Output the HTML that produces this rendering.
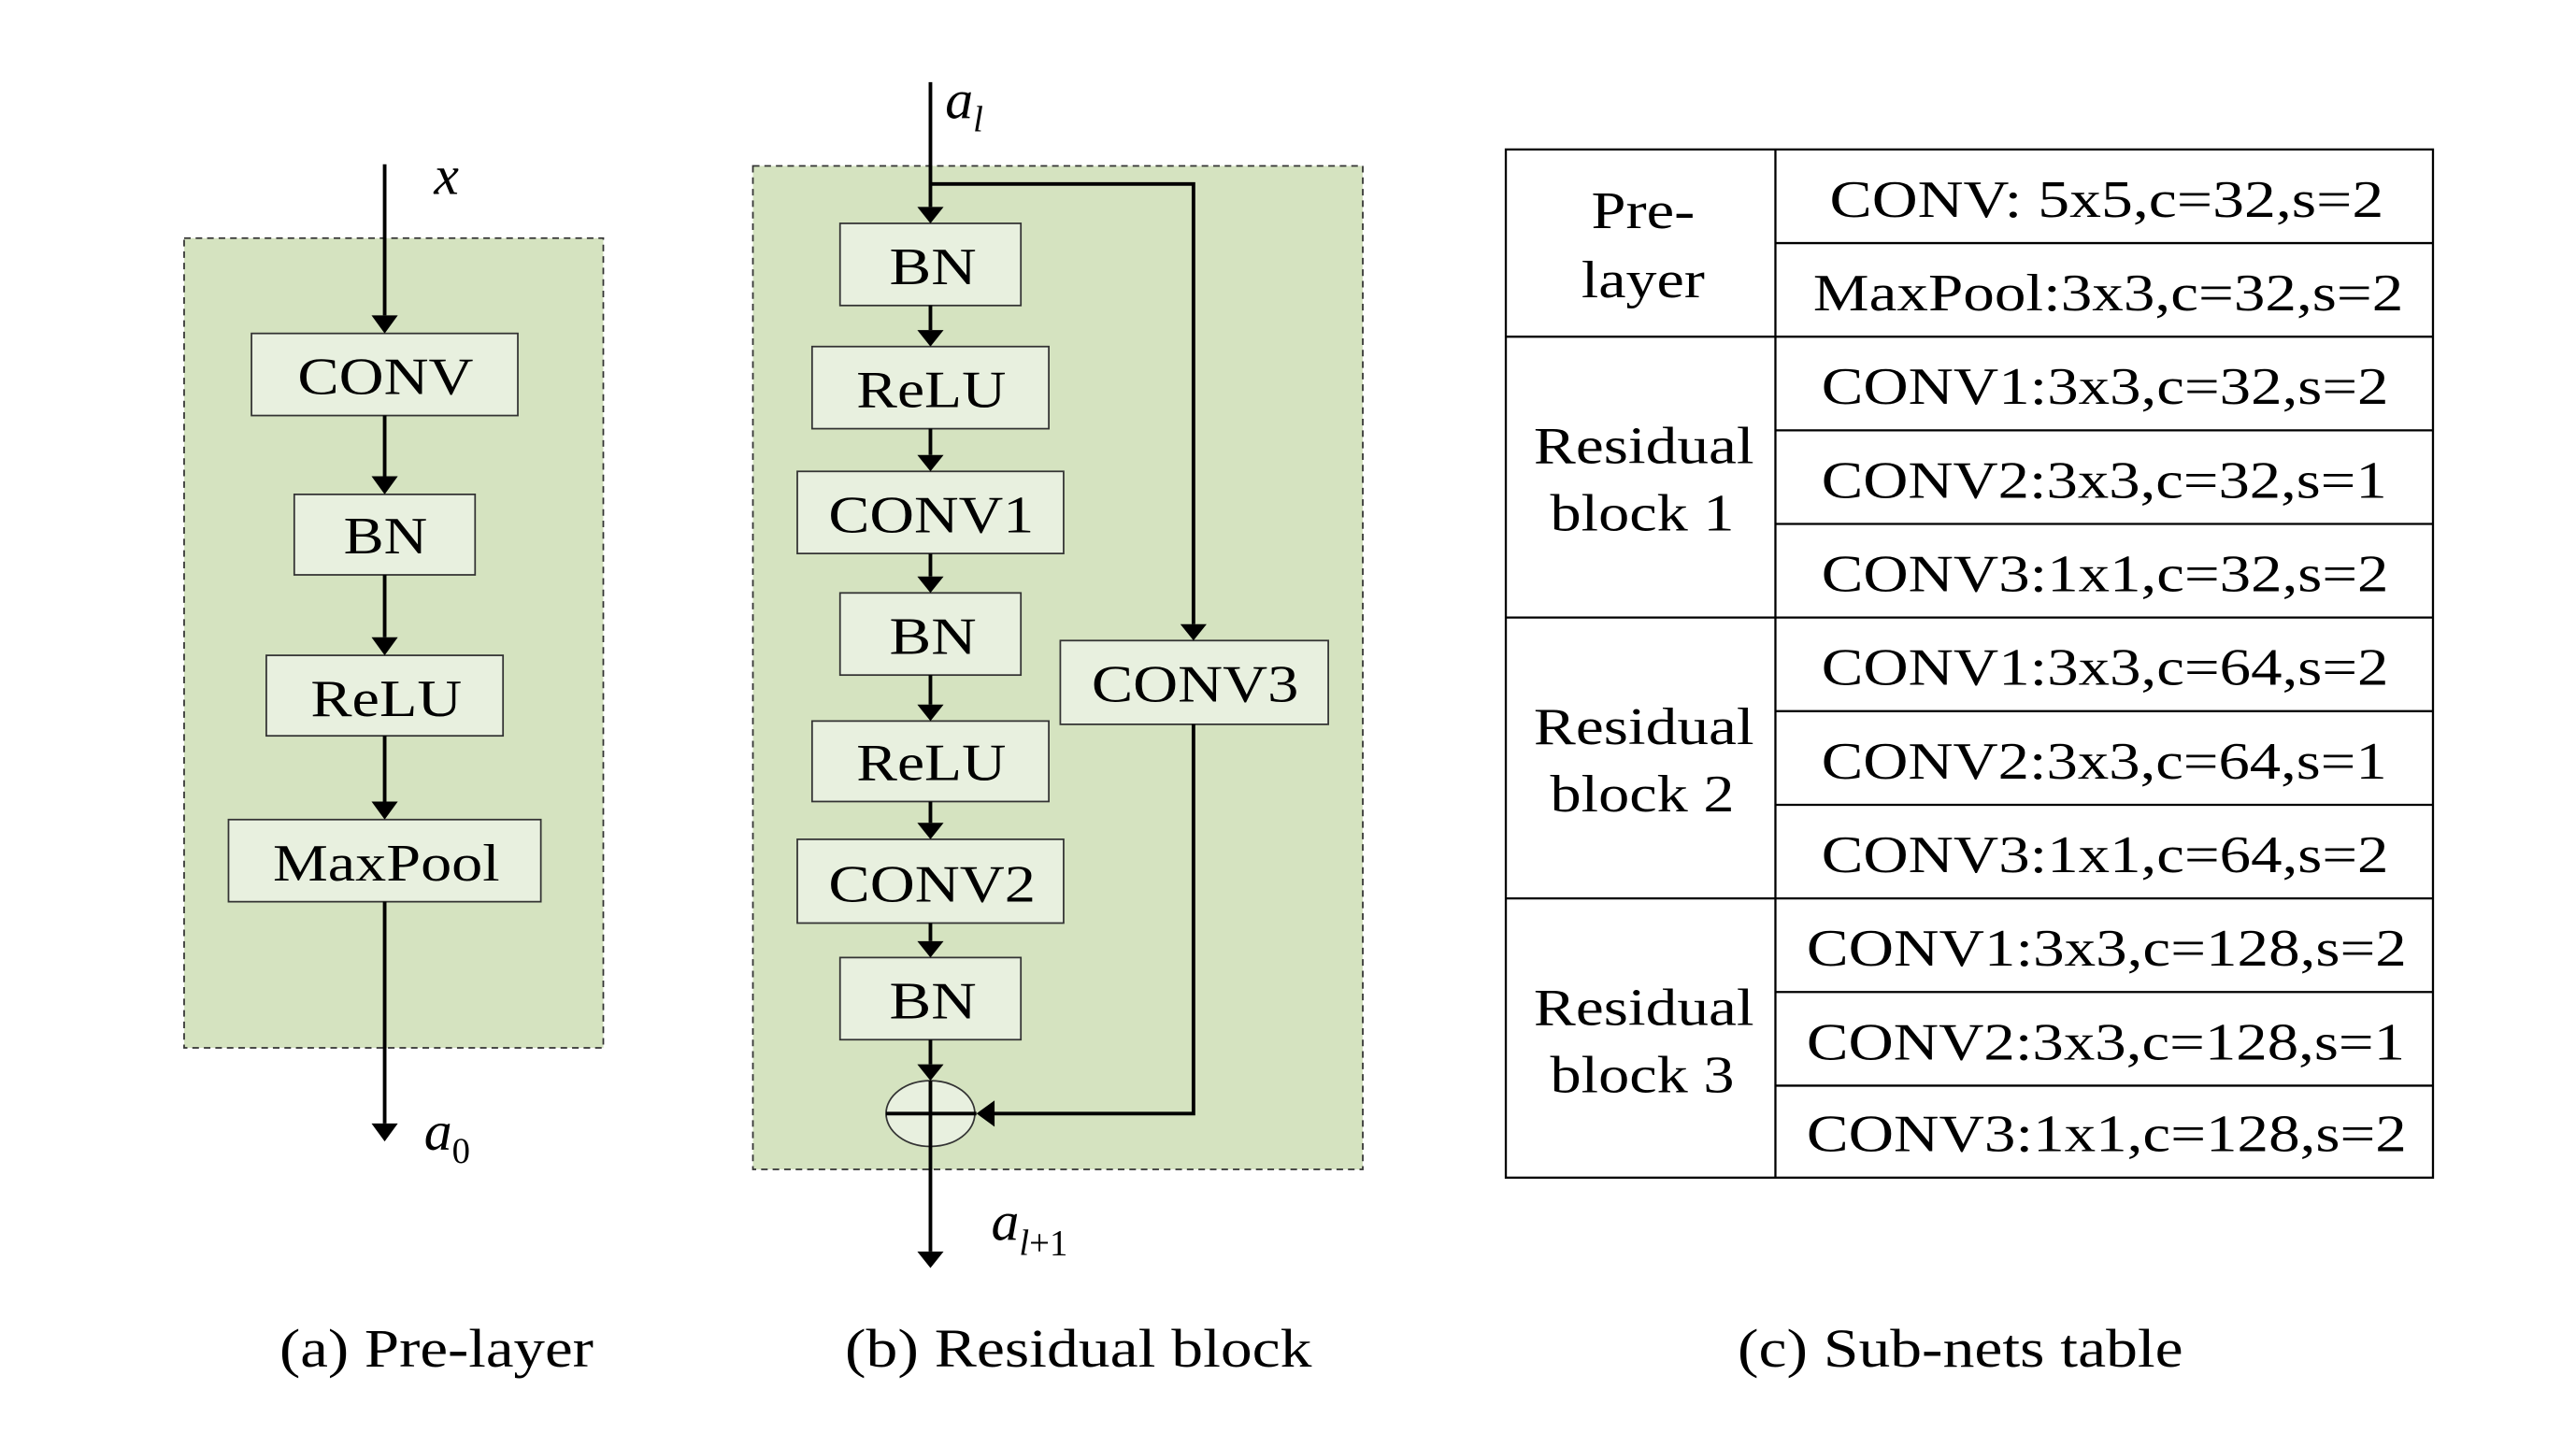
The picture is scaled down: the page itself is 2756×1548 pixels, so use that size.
<!DOCTYPE html>
<html><head><meta charset="utf-8"><style>
html,body{margin:0;padding:0;background:#fff;}
svg{display:block;}
text{font-family:"Liberation Serif",serif;fill:#000;}
</style></head><body>
<svg width="2756" height="1548" viewBox="0 0 1567 881" preserveAspectRatio="none" xmlns="http://www.w3.org/2000/svg">
<!-- panel a -->
<rect x="112" y="145" width="255" height="493" fill="#d5e3c0" stroke="#333" stroke-width="1" stroke-dasharray="4,3"/>
<g fill="#e8f0df" stroke="#333" stroke-width="1">
<rect x="153" y="203" width="162" height="50"/>
<rect x="179" y="301" width="110" height="49"/>
<rect x="162" y="399" width="144" height="49"/>
<rect x="139" y="499" width="190" height="50"/>
</g>
<g stroke="#000" stroke-width="2.2">
<line x1="234" y1="100" x2="234" y2="192"/>
<line x1="234" y1="253" x2="234" y2="290"/>
<line x1="234" y1="350" x2="234" y2="388"/>
<line x1="234" y1="448" x2="234" y2="488"/>
<line x1="234" y1="549" x2="234" y2="684"/>
</g>
<g fill="#000">
<path d="M226,192 L242,192 L234,203 z"/>
<path d="M226,290 L242,290 L234,301 z"/>
<path d="M226,388 L242,388 L234,399 z"/>
<path d="M226,488 L242,488 L234,499 z"/>
<path d="M226,684 L242,684 L234,695 z"/>
</g>
<g font-size="32" text-anchor="middle" lengthAdjust="spacingAndGlyphs">
<text x="234.5" y="240" textLength="107" lengthAdjust="spacingAndGlyphs">CONV</text>
<text x="234.5" y="337" textLength="51" lengthAdjust="spacingAndGlyphs">BN</text>
<text x="235" y="436" textLength="92" lengthAdjust="spacingAndGlyphs">ReLU</text>
<text x="235" y="536" textLength="138" lengthAdjust="spacingAndGlyphs">MaxPool</text>
</g>
<text x="264" y="118" font-size="34" font-style="italic">x</text>
<text x="258" y="700" font-size="34" font-style="italic">a<tspan font-size="22" font-style="normal" dy="8">0</tspan></text>

<!-- panel b -->
<rect x="458" y="101" width="371" height="611" fill="#d5e3c0" stroke="#333" stroke-width="1" stroke-dasharray="4,3"/>
<g fill="#e8f0df" stroke="#333" stroke-width="1">
<rect x="511" y="136" width="110" height="50"/>
<rect x="494" y="211" width="144" height="50"/>
<rect x="485" y="287" width="162" height="50"/>
<rect x="511" y="361" width="110" height="50"/>
<rect x="494" y="439" width="144" height="49"/>
<rect x="485" y="511" width="162" height="51"/>
<rect x="511" y="583" width="110" height="50"/>
<rect x="645" y="390" width="163" height="51"/>
<ellipse cx="566" cy="678" rx="27" ry="20"/>
</g>
<g stroke="#000" stroke-width="2.2" fill="none">
<line x1="566" y1="50" x2="566" y2="126"/>
<line x1="566" y1="186" x2="566" y2="201"/>
<line x1="566" y1="261" x2="566" y2="277"/>
<line x1="566" y1="337" x2="566" y2="351"/>
<line x1="566" y1="411" x2="566" y2="429"/>
<line x1="566" y1="488" x2="566" y2="501"/>
<line x1="566" y1="562" x2="566" y2="573"/>
<line x1="566" y1="633" x2="566" y2="648"/>
<line x1="566" y1="658" x2="566" y2="762"/>
<polyline points="566,112 726,112 726,380"/>
<polyline points="726,441 726,678 604,678"/>
<line x1="539" y1="678" x2="594" y2="678"/>
</g>
<g fill="#000">
<path d="M558,126 L574,126 L566,136 z"/>
<path d="M558,201 L574,201 L566,211 z"/>
<path d="M558,277 L574,277 L566,287 z"/>
<path d="M558,351 L574,351 L566,361 z"/>
<path d="M558,429 L574,429 L566,439 z"/>
<path d="M558,501 L574,501 L566,511 z"/>
<path d="M558,573 L574,573 L566,583 z"/>
<path d="M558,648 L574,648 L566,658 z"/>
<path d="M558,762 L574,762 L566,772 z"/>
<path d="M718,380 L734,380 L726,390 z"/>
<path d="M605,670 L605,686 L594,678 z"/>
</g>
<g font-size="32" text-anchor="middle">
<text x="567.5" y="173" textLength="53" lengthAdjust="spacingAndGlyphs">BN</text>
<text x="566.5" y="248" textLength="91" lengthAdjust="spacingAndGlyphs">ReLU</text>
<text x="566.5" y="324" textLength="125" lengthAdjust="spacingAndGlyphs">CONV1</text>
<text x="567.5" y="398" textLength="53" lengthAdjust="spacingAndGlyphs">BN</text>
<text x="566.5" y="475" textLength="91" lengthAdjust="spacingAndGlyphs">ReLU</text>
<text x="567" y="549" textLength="126" lengthAdjust="spacingAndGlyphs">CONV2</text>
<text x="567.5" y="620" textLength="53" lengthAdjust="spacingAndGlyphs">BN</text>
<text x="727" y="427" textLength="126" lengthAdjust="spacingAndGlyphs">CONV3</text>
</g>
<text x="575" y="72" font-size="34" font-style="italic">a<tspan font-size="22" dy="8">l</tspan></text>
<text x="603" y="755" font-size="34" font-style="italic">a<tspan font-size="22" dy="9">l</tspan><tspan font-size="22" font-style="normal">+1</tspan></text>

<!-- table -->
<g stroke="#000" stroke-width="1.3" fill="none">
<rect x="916" y="91" width="564" height="626"/>
<line x1="1080" y1="91" x2="1080" y2="717"/>
<line x1="916" y1="205" x2="1480" y2="205"/>
<line x1="916" y1="376" x2="1480" y2="376"/>
<line x1="916" y1="547" x2="1480" y2="547"/>
<line x1="1080" y1="148" x2="1480" y2="148"/>
<line x1="1080" y1="262" x2="1480" y2="262"/>
<line x1="1080" y1="319" x2="1480" y2="319"/>
<line x1="1080" y1="433" x2="1480" y2="433"/>
<line x1="1080" y1="490" x2="1480" y2="490"/>
<line x1="1080" y1="604" x2="1480" y2="604"/>
<line x1="1080" y1="661" x2="1480" y2="661"/>
</g>
<g font-size="32" text-anchor="middle">
<text x="999.5" y="139" textLength="63" lengthAdjust="spacingAndGlyphs">Pre-</text>
<text x="999.5" y="181" textLength="75" lengthAdjust="spacingAndGlyphs">layer</text>
<text x="1000" y="282" textLength="134" lengthAdjust="spacingAndGlyphs">Residual</text>
<text x="999" y="323" textLength="112" lengthAdjust="spacingAndGlyphs">block 1</text>
<text x="1000" y="453" textLength="134" lengthAdjust="spacingAndGlyphs">Residual</text>
<text x="999" y="494" textLength="112" lengthAdjust="spacingAndGlyphs">block 2</text>
<text x="1000" y="624" textLength="134" lengthAdjust="spacingAndGlyphs">Residual</text>
<text x="999" y="665" textLength="112" lengthAdjust="spacingAndGlyphs">block 3</text>
<text x="1281.5" y="132" textLength="337" lengthAdjust="spacingAndGlyphs">CONV: 5x5,c=32,s=2</text>
<text x="1282.5" y="189" textLength="359" lengthAdjust="spacingAndGlyphs">MaxPool:3x3,c=32,s=2</text>
<text x="1280.5" y="246" textLength="345" lengthAdjust="spacingAndGlyphs">CONV1:3x3,c=32,s=2</text>
<text x="1280" y="303" textLength="344" lengthAdjust="spacingAndGlyphs">CONV2:3x3,c=32,s=1</text>
<text x="1280.5" y="360" textLength="345" lengthAdjust="spacingAndGlyphs">CONV3:1x1,c=32,s=2</text>
<text x="1280.5" y="417" textLength="345" lengthAdjust="spacingAndGlyphs">CONV1:3x3,c=64,s=2</text>
<text x="1280" y="474" textLength="344" lengthAdjust="spacingAndGlyphs">CONV2:3x3,c=64,s=1</text>
<text x="1280.5" y="531" textLength="345" lengthAdjust="spacingAndGlyphs">CONV3:1x1,c=64,s=2</text>
<text x="1281.5" y="588" textLength="365" lengthAdjust="spacingAndGlyphs">CONV1:3x3,c=128,s=2</text>
<text x="1281" y="645" textLength="364" lengthAdjust="spacingAndGlyphs">CONV2:3x3,c=128,s=1</text>
<text x="1281.5" y="701" textLength="365" lengthAdjust="spacingAndGlyphs">CONV3:1x1,c=128,s=2</text>
</g>
<g font-size="33" text-anchor="middle">
<text x="265.5" y="832" textLength="191" lengthAdjust="spacingAndGlyphs">(a) Pre-layer</text>
<text x="656" y="832" textLength="284" lengthAdjust="spacingAndGlyphs">(b) Residual block</text>
<text x="1192.5" y="832" textLength="271" lengthAdjust="spacingAndGlyphs">(c) Sub-nets table</text>
</g>
</svg>
</body></html>
